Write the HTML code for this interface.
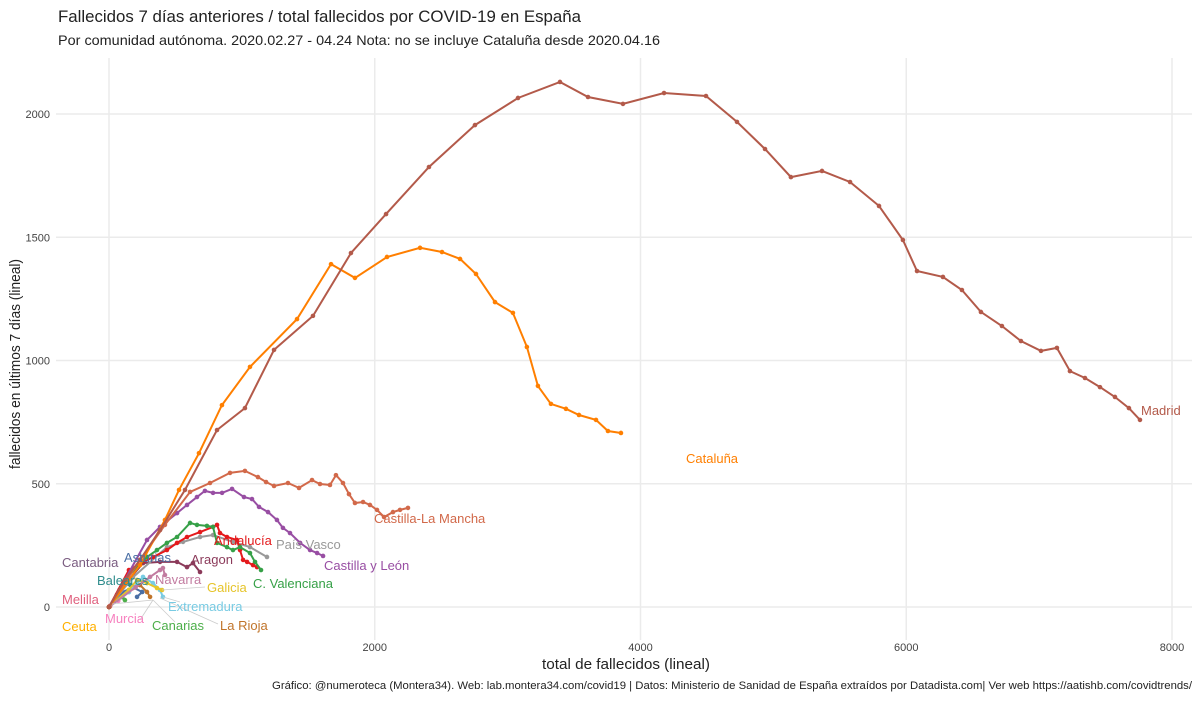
<!DOCTYPE html>
<html><head><meta charset="utf-8"><style>
body{margin:0;background:#fff;font-family:"Liberation Sans",sans-serif}
svg text{font-family:"Liberation Sans",sans-serif}
</style></head><body>
<svg id="chart" width="1200" height="700" xmlns="http://www.w3.org/2000/svg">
<rect width="1200" height="700" fill="#fff"/>
<text x="58" y="22" font-size="17" fill="#222" textLength="523" lengthAdjust="spacingAndGlyphs">Fallecidos 7 días anteriores / total fallecidos por COVID-19 en España</text>
<text x="58" y="45" font-size="14" fill="#222" textLength="602" lengthAdjust="spacingAndGlyphs">Por comunidad autónoma. 2020.02.27 - 04.24 Nota: no se incluye Cataluña desde 2020.04.16</text>
<g id="grid"></g><g id="series"></g><g id="labels"></g>
<text x="626" y="669" font-size="15" text-anchor="middle" fill="#222" textLength="168" lengthAdjust="spacingAndGlyphs">total de fallecidos (lineal)</text>
<text transform="translate(20,364) rotate(-90)" font-size="15" text-anchor="middle" fill="#222" textLength="210" lengthAdjust="spacingAndGlyphs">fallecidos en últimos 7 días (lineal)</text>
<text x="1192" y="689" font-size="11" text-anchor="end" fill="#222" textLength="920" lengthAdjust="spacingAndGlyphs">Gráfico: @numeroteca (Montera34). Web: lab.montera34.com/covid19 | Datos: Ministerio de Sanidad de España extraídos por Datadista.com| Ver web https://aatishb.com/covidtrends/</text>
</svg>
<script>
const xTicks=[0,2000,4000,6000,8000];
const yTicks=[0,500,1000,1500,2000];
const names=["Madrid","Cataluña","Castilla-La Mancha","Castilla y León","C. Valenciana","Andalucía","País Vasco","Aragon","Navarra","Galicia","Extremadura","La Rioja","Asturias","Canarias","Murcia","Baleares","Cantabria","Melilla","Ceuta"];
const colors=["#b35a4a","#ff7f00","#d2694a","#984ea3","#36a047","#e41a1c","#999999","#8b3a5a","#c27ba0","#e6c42a","#78cbe3","#c0742a","#4a6fa5","#4daf4a","#f781bf","#2f8c8c","#7a5c80","#e0607e","#ffb000"];
const madridX=[0,120,233,384,572,813,1023,1242,1535,1821,2085,2408,2754,3078,3394,3605,3868,4177,4493,4726,4937,5132,5366,5577,5795,5975,6081,6276,6419,6562,6720,6863,7014,7134,7232,7345,7458,7571,7676,7759];
const madridY=[0,110,191,312,475,718,807,1043,1181,1436,1594,1785,1955,2065,2130,2069,2041,2085,2073,1968,1858,1744,1769,1724,1627,1489,1363,1339,1286,1197,1140,1079,1039,1051,957,929,892,852,807,759];
const catX=[0,233,421,527,677,850,1061,1415,1671,1851,2092,2341,2506,2642,2762,2905,3040,3145,3228,3326,3439,3537,3665,3755,3853];
const catY=[0,170,353,475,624,819,974,1168,1391,1335,1420,1457,1440,1412,1351,1237,1193,1055,897,824,804,779,759,714,706];
const clmX=[0,233,421,610,760,911,1023,1121,1182,1242,1347,1430,1528,1588,1663,1708,1761,1806,1851,1912,1964,2017,2070,2137,2190,2250];
const clmY=[0,191,333,467,503,544,552,527,507,491,503,483,515,499,495,535,503,458,422,426,414,394,365,385,394,402];
const cylX=[0,120,286,384,512,587,662,722,783,851,926,1016,1076,1129,1197,1264,1309,1362,1438,1513,1566,1611];
const cylY=[0,110,272,325,381,414,446,471,463,463,479,446,438,406,385,353,321,300,260,231,219,207];
const cvX=[0,120,286,361,436,512,610,662,737,783,813,888,933,986,1061,1099,1144];
const cvY=[0,110,203,231,260,284,341,333,329,325,260,243,231,243,219,183,150];
const andX=[0,150,331,436,512,587,685,783,813,835,888,963,986,1009,1039,1084,1114];
const andY=[0,150,203,231,260,284,304,325,333,300,284,272,231,191,183,170,162];
const pvX=[0,180,436,557,685,783,933,1061,1189];
const pvY=[0,120,243,264,284,292,264,243,203];
const araX=[0,150,256,384,512,587,632,685];
const araY=[0,110,178,183,183,162,178,142];
const navX=[0,200,309,384,406,421];
const navY=[0,80,122,150,158,130];
const galX=[0,150,211,286,361,399];
const galY=[0,70,110,97,77,69];
const extX=[0,150,256,331,384,406];
const extY=[0,60,122,97,69,41];
const rioX=[0,180,233,286,309];
const rioY=[0,77,89,61,41];
const astX=[0,100,180,250,211];
const astY=[0,60,80,61,41];
const canX=[0,60,100,120];
const canY=[0,30,40,28];
const murX=[0,40,60,70];
const murY=[0,25,30,25];
const balX=[0,80,140,160];
const balY=[0,70,95,90];
const cntX=[0,60,90,100];
const cntY=[0,50,60,55];
const melX=[0,5,8];const melY=[0,4,3];
const ceuX=[0,3,5];const ceuY=[0,2,1];
const seriesX=[madridX,catX,clmX,cylX,cvX,andX,pvX,araX,navX,galX,extX,rioX,astX,canX,murX,balX,cntX,melX,ceuX];
const seriesY=[madridY,catY,clmY,cylY,cvY,andY,pvY,araY,navY,galY,extY,rioY,astY,canY,murY,balY,cntY,melY,ceuY];
const NS="http://www.w3.org/2000/svg";
const sx=v=>109+v*(1172-109)/8000;
const sy=v=>607-v*(607-114)/2000;
function mk(t,a,p){const e=document.createElementNS(NS,t);for(const k in a)e.setAttribute(k,a[k]);p.appendChild(e);return e;}
const grid=document.getElementById('grid');
xTicks.forEach(v=>{const l=mk('line',{x1:sx(v),x2:sx(v),y1:58,y2:640,stroke:'#ebebeb','stroke-width':1.5},grid);
const t=mk('text',{x:sx(v),y:651,'font-size':11,'text-anchor':'middle',fill:'#444'},grid);t.textContent=v;});
yTicks.forEach(v=>{const l=mk('line',{x1:56,x2:1192,y1:sy(v),y2:sy(v),stroke:'#ebebeb','stroke-width':1.5},grid);
const t=mk('text',{x:50,y:sy(v)+4,'font-size':11,'text-anchor':'end',fill:'#444'},grid);t.textContent=v;});
const sg=document.getElementById('series');
for(let i=seriesX.length-1;i>=0;i--){
 const xs=seriesX[i],ys=seriesY[i];
 const g=mk('g',{},sg);
 
 
 const d=xs.map((x,j)=>(j?'L':'M')+sx(x).toFixed(1)+','+sy(ys[j]).toFixed(1)).join('');
 const p=mk('path',{d:d,fill:'none',stroke:colors[i],'stroke-width':2},g);
 
 
 xs.forEach((x,j)=>{const c=mk('circle',{cx:sx(x),cy:sy(ys[j]),r:2.3,fill:colors[i]},g);
 
 });
}
const lg=document.getElementById('labels');
const leaders=[[153,600,112,604],[153,600,140,620],[153,600,175,622],[160,598,218,624],[163,597,180,602],[162,590,205,587]];
leaders.forEach(a=>{const l=mk('line',{x1:a[0],y1:a[1],x2:a[2],y2:a[3],stroke:'#ccc','stroke-width':0.8},lg);});
const lbl=[[0,1141,415],[1,686,463],[2,374,523],[3,324,570],[6,276,549],[5,214,545],[7,191,564],[4,253,588],[8,155,584],[9,207,592],[10,168,611],[11,220,630],[12,124,562],[13,152,630],[14,105,623],[15,97,585],[16,62,567],[17,62,604],[18,62,631]];
lbl.forEach(a=>{const t=mk('text',{x:a[1],y:a[2],'font-size':13,fill:colors[a[0]]},lg);t.textContent=names[a[0]];

});
</script>
</body></html>
